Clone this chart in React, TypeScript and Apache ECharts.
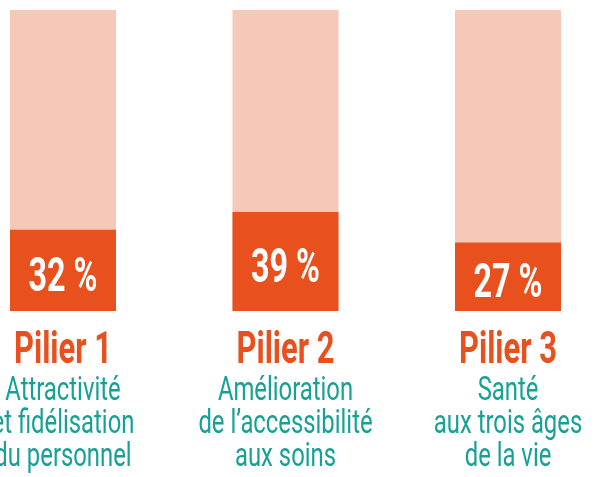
import React, { useEffect, useRef } from "react";
import * as echarts from "echarts";

const categories = ["Pilier 1", "Pilier 2", "Pilier 3"];
const values = [32, 39, 27];
const descriptions = [
  ["Attractivité", "et fidélisation", "du personnel"],
  ["Amélioration", "de l’accessibilité", "aux soins"],
  ["Santé", "aux trois âges", "de la vie"],
];
const yMax = 118.5;

const ORANGE = "#E8501E";
const SALMON = "#F6C8B8";
const TEAL = "#17A196";
const FONT = 'Roboto, "DejaVu Sans Condensed", sans-serif';

const PCT_FONT = `bold 48px ${FONT}`;
const PIL_FONT = `bold 44px ${FONT}`;
const DESC_FONT = `34px ${FONT}`;

function measure(font: string, text: string): number {
  const c = document.createElement("canvas");
  const ctx = c.getContext("2d");
  if (!ctx) return 100;
  ctx.font = font;
  return ctx.measureText(text).width;
}

export default function App() {
  const ref = useRef<HTMLDivElement>(null);
  useEffect(() => {
    if (!ref.current) return;
    const pctScale = 69 / measure(PCT_FONT, "32 %");
    const pilScale = (96 + 100) / (measure(PIL_FONT, "Pilier 1") + measure(PIL_FONT, "Pilier 2"));
    const descScale =
      (142 + 175) /
      (measure(DESC_FONT, "et fidélisation") + measure(DESC_FONT, "de l’accessibilité"));

    const chart = echarts.init(ref.current, undefined, { renderer: "svg" });
    chart.setOption({
      animation: false,
      grid: { left: 0, right: 0, top: 10, bottom: 166 },
      xAxis: {
        type: "value",
        min: -0.2831,
        max: 2.391,
        show: false,
      },
      yAxis: { type: "value", min: 0, max: yMax, show: false },
      series: [
        {
          type: "bar",
          data: values.map((v, i) => [i, v]),
          barWidth: 106,
          itemStyle: { color: ORANGE },
          showBackground: true,
          backgroundStyle: { color: SALMON },
          silent: true,
        },
        {
          type: "custom",
          z: 5,
          silent: true,
          encode: { x: 0, y: 1 },
          data: values.map((v, i) => [i, v]),
          renderItem: (params: any, api: any) => {
            const i = api.value(0);
            const v = api.value(1);
            const base = api.coord([i, 0]);
            const top = api.coord([i, v]);
            const cx = base[0];
            const by = base[1];
            const children: any[] = [];
            children.push({
              type: "text",
              x: cx,
              y: (top[1] + by) / 2 + 4,
              scaleX: pctScale,
              style: {
                text: `${values[i]} %`,
                fill: "#ffffff",
                font: PCT_FONT,
                align: "center",
                verticalAlign: "middle",
              },
            });
            children.push({
              type: "text",
              x: cx,
              y: by + 36.5,
              scaleX: pilScale,
              style: {
                text: categories[i],
                fill: ORANGE,
                font: PIL_FONT,
                align: "center",
                verticalAlign: "middle",
              },
            });
            descriptions[i].forEach((line, k) => {
              children.push({
                type: "text",
                x: cx,
                y: by + 77 + k * 33,
                scaleX: descScale,
                style: {
                  text: line,
                  fill: TEAL,
                  font: DESC_FONT,
                  align: "center",
                  verticalAlign: "middle",
                },
              });
            });
            return { type: "group", children };
          },
        },
      ],
    });
    return () => chart.dispose();
  }, []);
  return (
    <div
      ref={ref}
      style={{ position: "fixed", left: 0, top: 0, width: 595, height: 477 }}
    />
  );
}
